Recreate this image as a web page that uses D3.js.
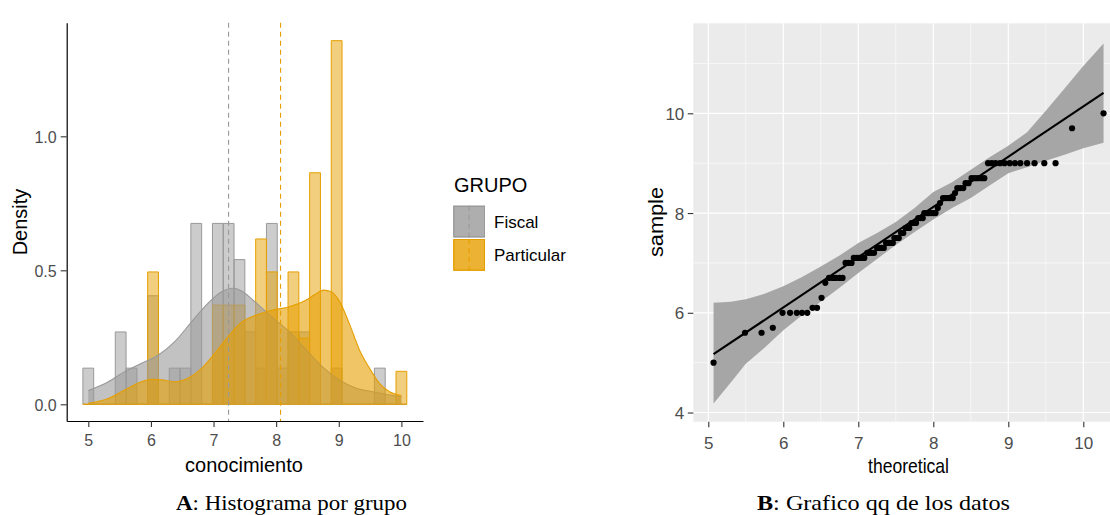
<!DOCTYPE html>
<html><head><meta charset="utf-8">
<script src="https://cdn.jsdelivr.net/npm/d3@7"></script>
<style>body{margin:0;background:#fff} svg{display:block}</style>
</head><body>
<svg id="c" width="1110" height="515"></svg>
<script>
// ---------------- data ----------------
const groups = ["Fiscal", "Particular"];
const groupColors = ["#999999", "#E69F00"];
const binWidth = 0.1724;
const binCenters = [5.000, 5.172, 5.345, 5.517, 5.690, 5.862, 6.034, 6.207, 6.379, 6.552,
                    6.724, 6.897, 7.069, 7.241, 7.414, 7.586, 7.759, 7.931, 8.103, 8.276,
                    8.448, 8.621, 8.793, 8.966, 9.138, 9.310, 9.483, 9.655, 9.828, 10.000];
const fiscalHist = [0.135, 0, 0, 0.27, 0.135, 0, 0.405, 0, 0.135, 0.135,
                    0.675, 0, 0.675, 0.675, 0.54, 0.27, 0.135, 0.675, 0.135, 0.27,
                    0.27, 0, 0, 0.135, 0, 0, 0, 0.135, 0, 0];
const particularHist = [0, 0, 0, 0, 0, 0, 0.494, 0, 0, 0,
                        0, 0, 0.37, 0.37, 0.37, 0, 0.617, 0.494, 0, 0.494,
                        0.247, 0.864, 0, 1.357, 0, 0, 0, 0, 0, 0.123];
const fiscalKdeX = [5.0, 5.32, 5.58, 5.85, 6.12, 6.38, 6.65, 6.91, 7.13, 7.31, 7.44, 7.63, 7.84, 7.95, 8.21, 8.48, 8.74, 9.01, 9.28, 9.54, 9.81, 10.0];
const fiscalKdeY = [0.051, 0.084, 0.122, 0.153, 0.184, 0.234, 0.308, 0.377, 0.42, 0.433, 0.424, 0.389, 0.345, 0.322, 0.271, 0.203, 0.14, 0.091, 0.06, 0.047, 0.035, 0.028];
const particularKdeX = [5.0, 5.32, 5.58, 5.85, 6.01, 6.17, 6.38, 6.59, 6.81, 7.02, 7.23, 7.44, 7.68, 7.95, 8.21, 8.48, 8.62, 8.76, 8.88, 9.01, 9.17, 9.33, 9.49, 9.65, 9.81, 10.0];
const particularKdeY = [0.004, 0.022, 0.053, 0.084, 0.093, 0.091, 0.084, 0.097, 0.134, 0.19, 0.252, 0.305, 0.333, 0.352, 0.364, 0.389, 0.41, 0.426, 0.42, 0.385, 0.3, 0.203, 0.135, 0.078, 0.047, 0.033];
const groupMeans = [7.24, 8.07];
const histXTicks = [5, 6, 7, 8, 9, 10];
const histYTicks = [0, 0.5, 1.0];

const qqTheoretical = [5.07,5.49,5.71,5.86,5.99,6.09,6.18,6.25,6.32,6.39,6.45,6.51,6.56,6.61,6.66,
  6.70,6.75,6.79,6.83,6.87,6.91,6.94,6.98,7.02,7.05,7.08,7.12,7.15,7.18,7.21,7.25,7.28,7.31,7.34,7.37,
  7.40,7.42,7.46,7.48,7.51,7.54,7.57,7.60,7.63,7.66,7.68,7.71,7.74,7.77,7.80,7.83,7.86,7.88,7.92,7.94,
  7.97,8.00,8.03,8.06,8.09,8.13,8.16,8.19,8.22,8.26,8.29,8.32,8.36,8.40,8.43,8.47,8.51,8.55,8.59,8.64,
  8.68,8.73,8.78,8.83,8.89,8.95,9.02,9.09,9.16,9.25,9.35,9.48,9.63,9.85,10.27];
const qqSample = [5.0,5.6,5.6,5.7,6.0,6.0,6.0,6.0,6.0,6.1,6.1,6.3,6.6,6.7,6.7,6.7,6.7,6.7,
  7.0,7.0,7.0,7.1,7.1,7.1,7.1,7.1,7.2,7.2,7.2,7.2,7.3,7.3,7.3,7.3,7.4,7.4,7.4,7.4,7.5,7.5,7.5,
  7.6,7.6,7.7,7.7,7.7,7.8,7.8,7.8,7.9,7.9,7.9,8.0,8.0,8.0,8.0,8.0,8.0,8.1,
  8.2,8.3,8.3,8.3,8.3,8.3,8.4,8.5,8.5,8.5,8.6,8.6,8.7,8.7,8.7,8.7,8.7,
  9.0,9.0,9.0,9.0,9.0,9.0,9.0,9.0,9.0,9.0,9.0,9.0,9.7,10.0];
const qqLineX = [5.07, 10.27];
const qqLineY = [5.17, 10.41];
const bandX  = [5.07, 5.3, 5.5, 5.75, 6.0, 6.25, 6.5, 6.75, 7.0, 7.25, 7.5, 7.75, 8.0, 8.25, 8.5, 8.75, 9.0, 9.25, 9.5, 9.75, 10.0, 10.27];
const bandLo = [4.18, 4.6, 4.98, 5.3, 5.65, 5.95, 6.22, 6.5, 6.8, 7.08, 7.36, 7.62, 7.87, 8.1, 8.3, 8.55, 8.8, 8.92, 9.05, 9.17, 9.3, 9.41];
const bandHi = [6.2, 6.22, 6.27, 6.38, 6.53, 6.72, 6.93, 7.15, 7.4, 7.6, 7.82, 8.1, 8.42, 8.62, 8.87, 9.12, 9.35, 9.62, 10.05, 10.5, 10.95, 11.4];
const qqXTicks = [5, 6, 7, 8, 9, 10];
const qqYTicks = [4, 6, 8, 10];
const qqXMinor = [5.5, 6.5, 7.5, 8.5, 9.5];
const qqYMinor = [5, 7, 9, 11];

// ---------------- drawing ----------------
const SANS = '"Liberation Sans", Arial, sans-serif';
const SERIF = '"Liberation Serif", "Times New Roman", serif';
const svg = d3.select('#c');

// ===== Panel A: histogram =====
const L = {left: 66.7, right: 423, top: 22.7, bottom: 421};
const xL = d3.scaleLinear().domain([4.655, 10.345]).range([L.left, L.right]);
const yL = d3.scaleLinear().domain([-0.0623, 1.424]).range([L.bottom, L.top]);

const gA = svg.append('g');
function drawBars(vals, color) {
  gA.append('g').selectAll('path')
    .data(binCenters.map((c, i) => ({c, v: vals[i]})))
    .join('path')
    .attr('d', d => {
      const x0 = xL(d.c - binWidth / 2), x1 = xL(d.c + binWidth / 2), y0 = yL(0), y1 = yL(d.v);
      return `M${x0},${y0}V${y1}H${x1}V${y0}Z`;
    })
    .attr('fill', color).attr('fill-opacity', 0.5)
    .attr('stroke', color).attr('stroke-width', 1);
}
drawBars(fiscalHist, groupColors[0]);
drawBars(particularHist, groupColors[1]);

const densArea = d3.area().x(d => xL(d[0])).y0(yL(0)).y1(d => yL(d[1])).curve(d3.curveMonotoneX);
const densLine = d3.line().x(d => xL(d[0])).y(d => yL(d[1])).curve(d3.curveMonotoneX);
[[fiscalKdeX, fiscalKdeY], [particularKdeX, particularKdeY]].forEach((k, gi) => {
  const pts = k[0].map((x, i) => [x, k[1][i]]);
  gA.append('path').attr('d', densArea(pts))
    .attr('fill', groupColors[gi]).attr('fill-opacity', 0.6).attr('stroke', 'none');
  gA.append('path').attr('d', densLine(pts))
    .attr('fill', 'none').attr('stroke', groupColors[gi]).attr('stroke-width', 1.1);
});

groupMeans.forEach((m, gi) => {
  gA.append('line').attr('x1', xL(m)).attr('x2', xL(m)).attr('y1', L.top).attr('y2', L.bottom)
    .attr('stroke', groupColors[gi]).attr('stroke-width', 1.1).attr('stroke-dasharray', '5,4');
});

// axes (theme_classic)
const axL = gA.append('g').attr('transform', `translate(${L.left},0)`)
  .call(d3.axisLeft(yL).tickValues(histYTicks).tickFormat(d3.format('.1f')).tickSize(6).tickSizeOuter(0));
const axB = gA.append('g').attr('transform', `translate(0,${L.bottom})`)
  .call(d3.axisBottom(xL).tickValues(histXTicks).tickFormat(d3.format('d')).tickSize(6).tickSizeOuter(0));
[axL, axB].forEach(a => {
  a.select('.domain').attr('stroke', '#000').attr('stroke-width', 1.2);
  a.selectAll('.tick line').attr('stroke', '#333').attr('stroke-width', 1.1);
  a.selectAll('.tick text').attr('fill', '#4D4D4D').style('font-family', SANS).style('font-size', '16px');
});
axL.selectAll('.tick text').attr('x', -10).attr('dy', '0.36em');
axB.selectAll('.tick text').attr('y', 14).attr('dy', '0.71em');

gA.append('text').attr('x', 244).attr('y', 472).attr('text-anchor', 'middle')
  .style('font-family', SANS).style('font-size', '20px').attr('fill', '#000').text('conocimiento');
gA.append('text').attr('transform', 'translate(26.5,222) rotate(-90)').attr('text-anchor', 'middle')
  .style('font-family', SANS).style('font-size', '20px').attr('fill', '#000').text('Density');

// legend
const lg = svg.append('g');
lg.append('text').attr('x', 454).attr('y', 192).style('font-family', SANS).style('font-size', '20px').text('GRUPO');
groups.forEach((g, i) => {
  const ky = 205.7 + i * 33.3, kx = 453.3, ks = 31.7;
  lg.append('rect').attr('x', kx).attr('y', ky).attr('width', ks).attr('height', ks).attr('fill', '#fff');
  lg.append('rect').attr('x', kx + 0.5).attr('y', ky + 0.5).attr('width', ks - 1).attr('height', ks - 1)
    .attr('fill', groupColors[i]).attr('fill-opacity', 0.5).attr('stroke', groupColors[i]).attr('stroke-width', 1);
  lg.append('rect').attr('x', kx + 0.5).attr('y', ky + 0.5).attr('width', ks - 1).attr('height', ks - 1)
    .attr('fill', groupColors[i]).attr('fill-opacity', 0.6).attr('stroke', groupColors[i]).attr('stroke-width', 1);
  lg.append('line').attr('x1', kx + ks / 2).attr('x2', kx + ks / 2).attr('y1', ky).attr('y2', ky + ks)
    .attr('stroke', groupColors[i]).attr('stroke-width', 1.1).attr('stroke-dasharray', '5,4');
  lg.append('text').attr('x', 494).attr('y', ky + ks / 2 + 6.3)
    .style('font-family', SANS).style('font-size', '17px').text(g);
});

// ===== Panel B: qq plot =====
const R = {left: 693.3, right: 1110, top: 23.3, bottom: 421.7};
const xR = d3.scaleLinear().domain([4.8, 10.356]).range([R.left, R.right]);
const yR = d3.scaleLinear().domain([3.816, 11.805]).range([R.bottom, R.top]);
const gB = svg.append('g');
gB.append('rect').attr('x', R.left).attr('y', R.top).attr('width', R.right - R.left).attr('height', R.bottom - R.top).attr('fill', '#EBEBEB');
qqXMinor.forEach(v => gB.append('line').attr('x1', xR(v)).attr('x2', xR(v)).attr('y1', R.top).attr('y2', R.bottom).attr('stroke', '#fff').attr('stroke-width', 0.6));
qqYMinor.forEach(v => gB.append('line').attr('y1', yR(v)).attr('y2', yR(v)).attr('x1', R.left).attr('x2', R.right).attr('stroke', '#fff').attr('stroke-width', 0.6));
qqXTicks.forEach(v => gB.append('line').attr('x1', xR(v)).attr('x2', xR(v)).attr('y1', R.top).attr('y2', R.bottom).attr('stroke', '#fff').attr('stroke-width', 1.2));
qqYTicks.forEach(v => gB.append('line').attr('y1', yR(v)).attr('y2', yR(v)).attr('x1', R.left).attr('x2', R.right).attr('stroke', '#fff').attr('stroke-width', 1.2));

const band = d3.area().x((d, i) => xR(bandX[i])).y0((d, i) => yR(bandLo[i])).y1((d, i) => yR(bandHi[i]));
gB.append('path').attr('d', band(bandX)).attr('fill', '#A6A6A6');
gB.append('path').attr('d', d3.line()(qqLineX.map((x, i) => [xR(x), yR(qqLineY[i])])))
  .attr('stroke', '#000').attr('stroke-width', 2.1).attr('fill', 'none');
gB.append('g').selectAll('circle').data(qqSample).join('circle')
  .attr('cx', (d, i) => xR(qqTheoretical[i])).attr('cy', d => yR(d)).attr('r', 3.1).attr('fill', '#000');

const axRL = gB.append('g').attr('transform', `translate(${R.left},0)`)
  .call(d3.axisLeft(yR).tickValues(qqYTicks).tickFormat(d3.format('d')).tickSize(5.5).tickSizeOuter(0));
const axRB = gB.append('g').attr('transform', `translate(0,${R.bottom})`)
  .call(d3.axisBottom(xR).tickValues(qqXTicks).tickFormat(d3.format('d')).tickSize(5.5).tickSizeOuter(0));
[axRL, axRB].forEach(a => {
  a.select('.domain').remove();
  a.selectAll('.tick line').attr('stroke', '#333').attr('stroke-width', 1.1);
  a.selectAll('.tick text').attr('fill', '#4D4D4D').style('font-family', SANS).style('font-size', '17px');
});
axRL.selectAll('.tick text').attr('x', -9).attr('dy', '0.36em');
axRB.selectAll('.tick text').attr('y', 15).attr('dy', '0.71em');

gB.append('text').attr('x', 868).attr('y', 472.5).attr('textLength', 81).attr('lengthAdjust', 'spacingAndGlyphs')
  .style('font-family', SANS).style('font-size', '21px').text('theoretical');
gB.append('text').attr('transform', 'translate(663,257) rotate(-90)').attr('textLength', 70).attr('lengthAdjust', 'spacingAndGlyphs')
  .style('font-family', SANS).style('font-size', '20px').text('sample');

// captions
const capA = svg.append('text').attr('x', 176).attr('y', 510).attr('textLength', 231).attr('lengthAdjust', 'spacingAndGlyphs')
  .style('font-family', SERIF).style('font-size', '21px').attr('fill', '#000');
capA.append('tspan').style('font-weight', 'bold').text('A');
capA.append('tspan').text(': Histograma por grupo');
const capB = svg.append('text').attr('x', 757).attr('y', 510).attr('textLength', 253).attr('lengthAdjust', 'spacingAndGlyphs')
  .style('font-family', SERIF).style('font-size', '21px').attr('fill', '#000');
capB.append('tspan').style('font-weight', 'bold').text('B');
capB.append('tspan').text(': Grafico qq de los datos');
</script>
</body></html>
